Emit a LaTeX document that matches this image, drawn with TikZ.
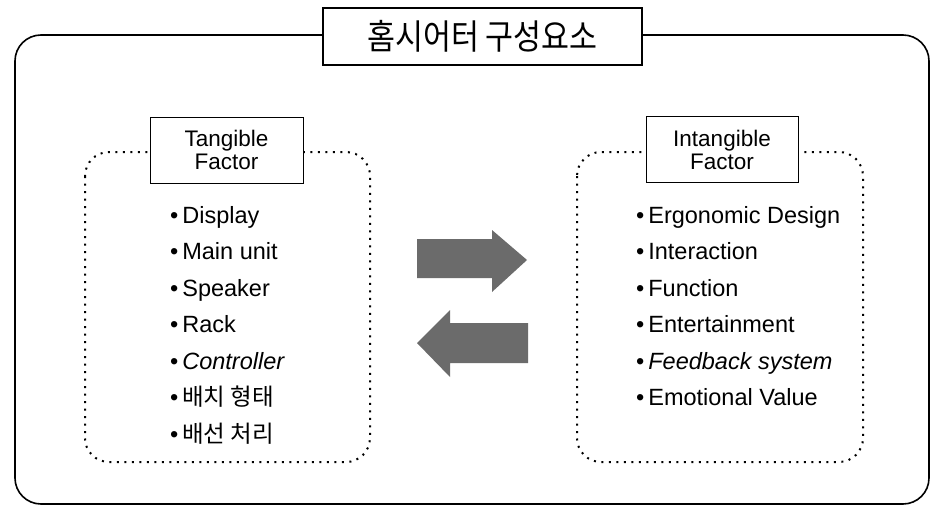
\documentclass[tikz,border=0pt]{standalone}
\usepackage{fontspec}
\setmainfont{Liberation Sans}
\newfontfamily\krfont{Noto Sans CJK KR}
\begin{document}
\begin{tikzpicture}[x=1pt,y=-1pt,
		frame/.style={line width=1.6pt,rounded corners=26pt},
		dotbox/.style={line width=2pt,dash pattern=on 2pt off 5.5pt,rounded corners=24pt},
		factor/.style={draw,fill=white,line width=0.8pt,minimum width=153pt,minimum height=66pt,align=center,font=\fontsize{22.5}{23}\selectfont},
		item/.style={anchor=west,inner sep=0pt,text height=16pt,text depth=0pt,font=\fontsize{23.5}{24}\selectfont},
		shade/.style={fill=black!58}]
	\useasboundingbox (0,0) rectangle (931,506);
	
	% outer frame and title
	\draw[frame] (15,35) rectangle (929,504);
	\node[draw,fill=white,line width=1.6pt,minimum width=319pt,minimum height=57pt,font=\krfont\fontsize{31}{31}\selectfont] (title) at (482.5,36.5) {\scalebox{0.98}[1.12]{홈시어터 구성요소}};
	
	% dotted groups
	\draw[dotbox] (85,152) rectangle (370,462);
	\draw[dotbox] (577,152) rectangle (863,462);
	\node[factor] (tangible) at (226.5,150) {Tangible\\Factor};
	\node[factor,minimum width=152pt] (intangible) at (722,149.5) {Intangible\\Factor};
	
	% tangible items
	\foreach \txt [count=\i] in {Display,Main unit,Speaker,Rack,\textit{Controller},{\krfont 배치 형태},{\krfont 배선 처리}}{
		\node[item] (t\i) at (170,178.5+36.5*\i) {\textbullet\,\txt};
	}
	
	% intangible items
	\foreach \txt [count=\i] in {Ergonomic Design,Interaction,Function,Entertainment,\textit{Feedback system},Emotional Value}{
		\node[item] (n\i) at (636,178.5+36.5*\i) {\textbullet\,\txt};
	}
	
	% arrows between the groups
	\fill[shade] (417,239) -- (492,239) -- (492,230) -- (527,260) -- (492,292) -- (492,278) -- (417,278) -- cycle;
	\fill[shade] (528,323) -- (450,323) -- (450,310) -- (417,343) -- (450,377) -- (450,363) -- (528,363) -- cycle;
\end{tikzpicture}
\end{document}
